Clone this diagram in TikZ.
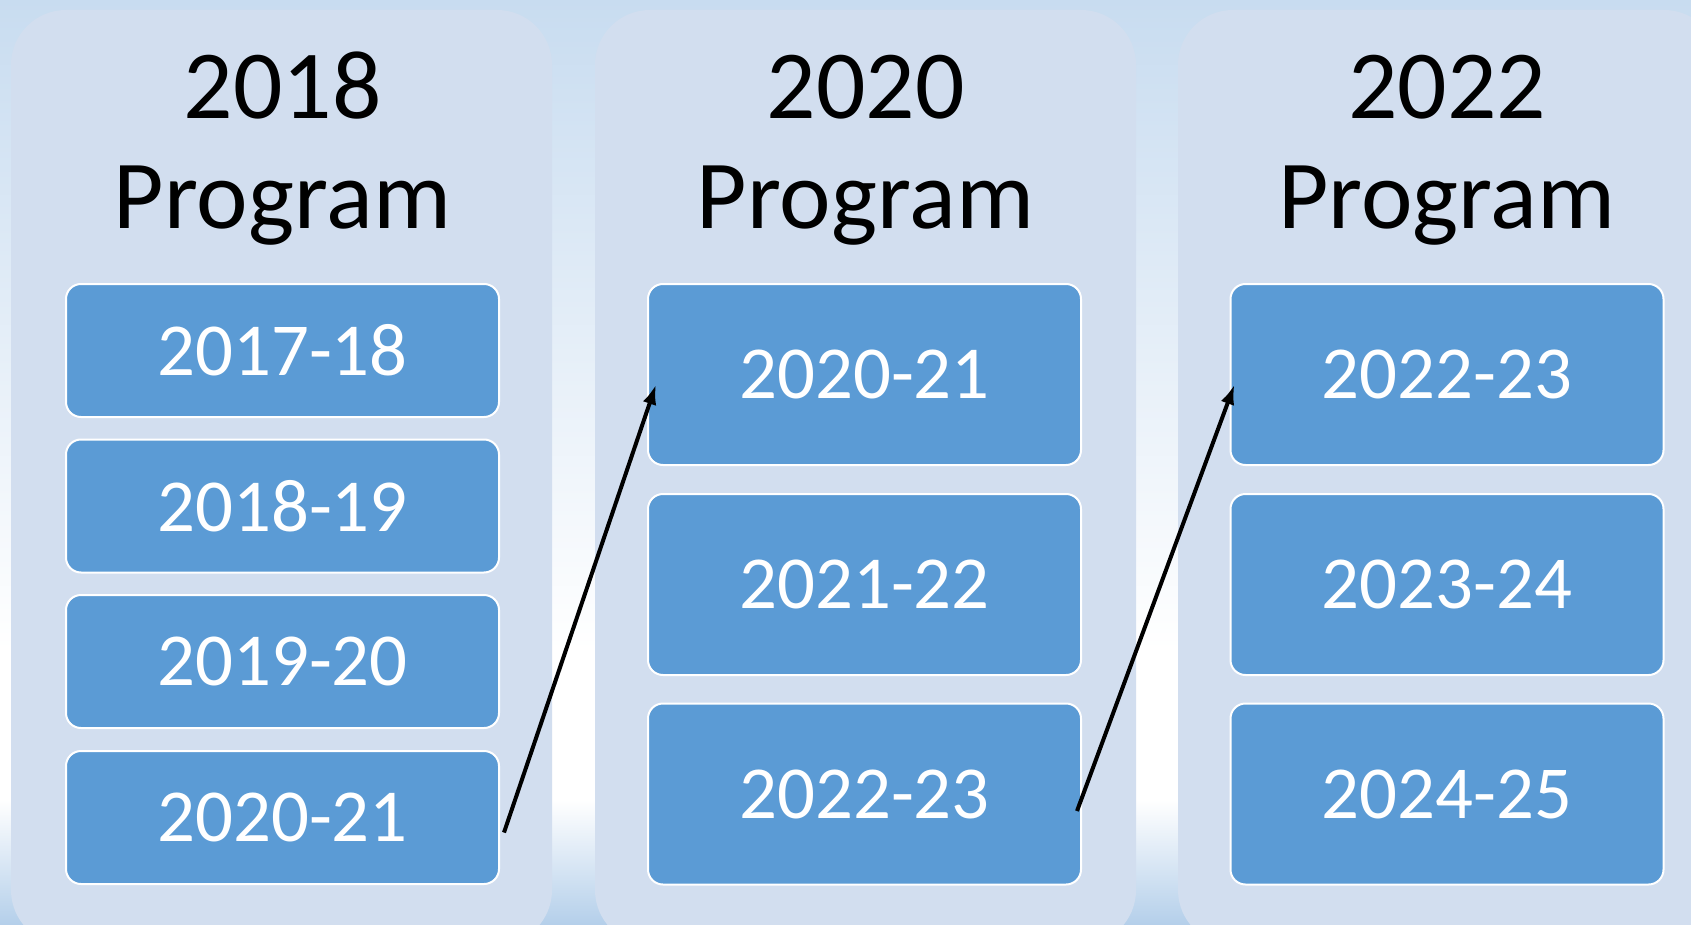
\documentclass[tikz,border=0pt]{standalone}
\usepackage{fontspec}
\setmainfont{Carlito}
\usetikzlibrary{positioning, arrows.meta}

\definecolor{skytop}{HTML}{C8DCF0}
\definecolor{skybottom}{HTML}{B4CFEA}
\definecolor{colfill}{HTML}{D2DEEF}
\definecolor{boxblue}{HTML}{5B9BD5}

\begin{document}
\begin{tikzpicture}[x=0.5pt, y=-0.5pt,
		link/.style={-{Latex[length=10pt, width=7pt]}, line width=2pt},
		column/.style={fill=colfill, rounded corners=27.5pt},
		yearbox/.style={draw=white, line width=1pt, fill=boxblue, rounded corners=7.5pt,
				text=white, minimum width=216.5pt, inner sep=0pt,
				font=\fontsize{37.4}{44}\selectfont},
		title/.style={anchor=base, font=\fontsize{48.8}{55}\selectfont}]

		\useasboundingbox (0,0) rectangle (1691,925);

		% background
		\shade[top color=skytop, bottom color=white] (0,0) rectangle (1691,650);
		\fill[white] (0,650) rectangle (1691,800);
		\shade[top color=white, bottom color=skybottom] (0,800) rectangle (1691,925);

		% the three columns
		\foreach \x in {11, 595, 1178} {
				\fill[column] (\x,10) rectangle ++(541,935);
			}

		% titles
		\foreach \x/\yr in {282.5/2018, 865.5/2020, 1447/2022} {
				\node[title] (t\yr) at (\x,119) {\yr};
				\node[title] (p\yr) at (\x,229) {Program};
			}

		% 2018 program
		\foreach \n/\y/\t in {
				1/350.5/2017-18,
				2/506/2018-19,
				3/661.5/2019-20,
				4/817.5/2020-21
			} {
				\node[yearbox, minimum height=66.5pt] (a\n) at (282.5,\y) {\t};
			}

		% 2020 and 2022 programs
		\foreach \n/\y/\t/\u in {
				1/374.5/2020-21/2022-23,
				2/584.5/2021-22/2023-24,
				3/794/2022-23/2024-25
			} {
				\node[yearbox, minimum height=90.5pt] (b\n) at (864.5,\y) {\t};
				\node[yearbox, minimum height=90.5pt] (c\n) at (1447,\y) {\u};
			}

		\draw[link] ([shift={(2pt,-7.5pt)}]a4.east) -- ([shift={(4.5pt,-5pt)}]b1.west);
		\draw[link] ([shift={(-2.5pt,-8.5pt)}]b3.east) -- ([shift={(2.5pt,-5pt)}]c1.west);
	\end{tikzpicture}
\end{document}
